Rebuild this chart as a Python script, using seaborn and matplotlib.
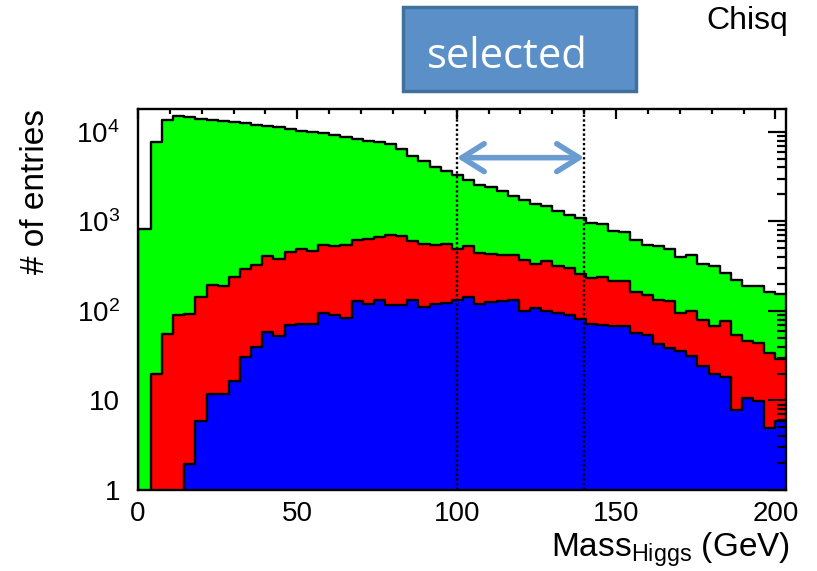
import numpy as np
import pandas as pd
import matplotlib
matplotlib.use("Agg")
import matplotlib.pyplot as plt
import matplotlib.ticker as mticker
from matplotlib.patches import Rectangle
import seaborn as sns

# ---------------- data ----------------
bin_edges = [0.0] + [4.0 + 3.5 * k for k in range(58)]   # 58 bins, last edge 203.5

all_entries = [825, 7700, 13700, 15200, 14700, 14000, 13700, 13100, 12800, 12600,
               12000, 11700, 11300, 10800, 10300, 9970, 9720, 9310, 8690, 8340,
               7840, 7640, 7330, 6450, 5330, 4770, 4020, 3690, 3300, 2930,
               2580, 2400, 2170, 1910, 1750, 1580, 1475, 1300, 1190, 1095,
               962, 945, 775, 765, 626, 551, 527, 497, 402, 419,
               336, 315, 266, 224, 189, 192, 162, 153]

red_entries = [0, 19.5, 55.5, 89.5, 92.8, 143, 197, 189, 240, 295,
               330, 408, 381, 452, 493, 464, 541, 527, 551, 615,
               637, 665, 700, 682, 600, 565, 541, 561, 497, 527,
               445, 433, 426, 419, 375, 336, 359, 315, 303, 261,
               234, 240, 215, 215, 162, 152, 134, 128, 95, 99,
               80, 67.5, 76.8, 54.5, 46, 43.3, 34, 28.7]

blue_entries = [0, 0, 0, 0, 1.93, 5.9, 11.7, 11.7, 16.7, 30.4,
                39.3, 57.8, 52.2, 70, 72.3, 72.3, 95.3, 89.6, 83.7, 128,
                121, 132, 115, 115, 132, 111, 118, 123, 134, 144,
                121, 125, 128, 132, 99, 108, 99, 95, 91, 81.7,
                71.8, 69.3, 67.5, 67.5, 57, 54.5, 42.2, 38.7, 35.5, 31.2,
                24.1, 19.5, 18.4, 7.9, 10.7, 9.8, 4.96, 5.9]

y_tick_values = [1, 10, 100, 1000, 10000]
y_tick_labels = ["1", "10", r"$10^{2}$", r"$10^{3}$", r"$10^{4}$"]
x_tick_values = [0, 50, 100, 150, 200]
cut_low, cut_high = 100, 140
arrow_level = 5150

# ---------------- style ----------------
sns.set_style("white")
plt.rcParams["font.family"] = ["Liberation Sans", "DejaVu Sans"]
plt.rcParams["mathtext.fontset"] = "custom"
plt.rcParams["mathtext.rm"] = "Liberation Sans"
plt.rcParams["mathtext.it"] = "Liberation Sans:italic"
plt.rcParams["mathtext.default"] = "regular"
plt.rcParams["axes.labelcolor"] = "black"
plt.rcParams["text.color"] = "black"

W, H = 817, 571
fig = plt.figure(figsize=(W / 100, H / 100), dpi=100)
ax = fig.add_axes([138 / W, (H - 490) / H, 648 / W, 381 / H])

edges = np.array(bin_edges)
centers = (edges[:-1] + edges[1:]) / 2
for vals, col in [(all_entries, "#00ff00"), (red_entries, "#ff0000"), (blue_entries, "#0000ff")]:
    df = pd.DataFrame({"mass": centers, "n": np.array(vals, dtype=float)})
    sns.histplot(data=df, x="mass", weights="n", bins=bin_edges, element="step", fill=True,
                 color=col, alpha=1, edgecolor="black", linewidth=1.7, ax=ax)

ax.set_yscale("log")
ax.set_xlim(0, 203.3)
ax.set_ylim(1, 1.8e4)
ax.set_axisbelow(False)
ax.xaxis.set_zorder(8)
ax.yaxis.set_zorder(8)

ax.axvline(cut_low, color="black", ls=(0, (1, 1)), lw=1.7, zorder=5)
ax.axvline(cut_high, color="black", ls=(0, (1, 1)), lw=1.7, zorder=5)
ax.annotate("", xy=(cut_high, arrow_level), xytext=(cut_low, arrow_level),
            arrowprops=dict(arrowstyle="<->,head_length=0.8,head_width=0.5",
                            color="#6a9bd1", lw=4, mutation_scale=20,
                            shrinkA=0, shrinkB=0), zorder=6)

ax.set_xticks(x_tick_values)
ax.xaxis.set_minor_locator(mticker.MultipleLocator(10))
ax.yaxis.set_major_locator(mticker.FixedLocator(y_tick_values))
ax.set_yticklabels(y_tick_labels)
ax.yaxis.set_minor_locator(mticker.LogLocator(base=10, subs=np.arange(2, 10)))
ax.yaxis.set_minor_formatter(mticker.NullFormatter())

ax.tick_params(axis="both", which="both", direction="in", top=True, right=True,
               width=1.6, colors="black", labelsize=20)
ax.tick_params(axis="x", which="major", length=7.5, pad=8)
ax.tick_params(axis="x", which="minor", length=3.8)
ax.tick_params(axis="y", which="major", length=13, pad=13)
ax.tick_params(axis="y", which="minor", length=6.5)
for s in ax.spines.values():
    s.set_linewidth(1.7)
    s.set_color("black")
    s.set_zorder(7)

ax.set_xlabel(r"Mass$_{Higgs}$ (GeV)", fontsize=24, loc="right", color="black")
ax.xaxis.set_label_coords(1.006, -0.105)
ax.set_ylabel("# of entries", fontsize=24, loc="top", color="black")
ax.yaxis.set_label_coords(-0.135, 1.0)

# overlay annotations
fig.patches.append(Rectangle((403 / W, 1 - 91 / H), 233 / W, 84 / H,
                             transform=fig.transFigure, facecolor="#5b8fc8",
                             edgecolor="#41709c", lw=2.5))
fig.text(427 / W, 1 - 68 / H, "selected", color="white", fontsize=30,
         family=["Open Sans", "DejaVu Sans"], ha="left", va="baseline")
fig.text(788 / W, 1 - 29 / H, "Chisq", color="black", fontsize=23,
         ha="right", va="baseline")

fig.savefig("out.png", dpi=100)
